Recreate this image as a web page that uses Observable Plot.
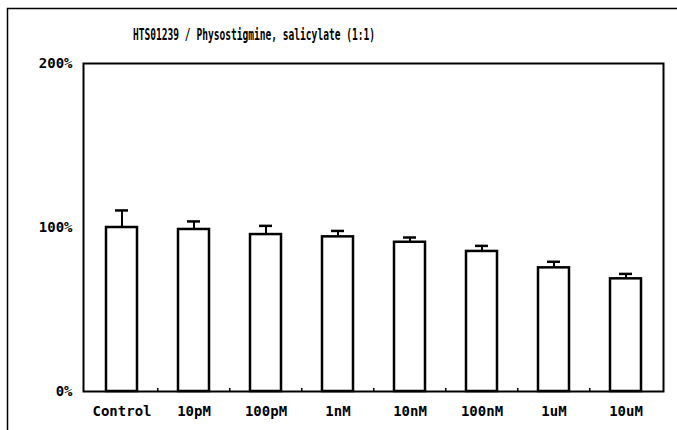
<!DOCTYPE html>
<html>
<head>
<meta charset="utf-8">
<script src="https://cdn.jsdelivr.net/npm/d3@7"></script>
<script src="https://cdn.jsdelivr.net/npm/@observablehq/plot@0.6"></script>
<style>
  html, body { margin: 0; padding: 0; background: #fff; }
  #chart svg { display: block; }
</style>
</head>
<body>
<div id="chart"></div>
<script>
const titleText = "HTS01239 / Physostigmine, salicylate (1:1)";
const categories = ["Control", "10pM", "100pM", "1nM", "10nM", "100nM", "1uM", "10uM"];
const means = [100, 98.8, 95.7, 94.3, 91.0, 85.4, 75.4, 68.7];
const errors = [10.4, 4.9, 5.3, 3.6, 2.9, 3.4, 3.7, 3.0];
const yTicks = [0, 100, 200];

const data = categories.map((c, i) => ({cat: c, mean: means[i], top: means[i] + errors[i]}));

const fontFam = "'DejaVu Sans Mono', 'Liberation Mono', monospace";

const chart = Plot.plot({
  width: 677,
  height: 430,
  marginTop: 63,
  marginBottom: 39,
  marginLeft: 83,
  marginRight: 14,
  style: {fontFamily: fontFam, fontWeight: "bold", fontSize: "14px", color: "black", background: "white"},
  x: {domain: categories, paddingInner: 0.57, paddingOuter: 0.285, label: null, tickSize: 0, tickPadding: 15},
  y: {domain: [0, 200], ticks: yTicks, tickFormat: d => d + "%", label: null, tickSize: 0, tickPadding: 11},
  marks: [
    Plot.ruleX(categories.slice(1), {x: d => d, dx: -36.25, insetTop: 325, stroke: "black", strokeWidth: 1.5}),
    Plot.ruleX(data, {x: "cat", y1: "mean", y2: "top", stroke: "black", strokeWidth: 2}),
    Plot.tickY(data, {x: "cat", y: "top", stroke: "black", strokeWidth: 2.5, insetLeft: 9, insetRight: 9}),
    Plot.barY(data, {x: "cat", y: "mean", fill: "white", stroke: "black", strokeWidth: 2.5}),
    Plot.frame({stroke: "black", strokeWidth: 2})
  ]
});

document.getElementById("chart").appendChild(chart);

const svg = d3.select(chart);
svg.append("rect")
  .attr("x", 7.5).attr("y", 8.5)
  .attr("width", 720).attr("height", 500)
  .attr("fill", "none").attr("stroke", "black").attr("stroke-width", 1.5);
svg.append("text")
  .attr("x", 254).attr("y", 40)
  .attr("text-anchor", "middle")
  .attr("font-family", fontFam)
  .attr("font-weight", "bold")
  .attr("font-size", 16)
  .attr("textLength", 242)
  .attr("lengthAdjust", "spacingAndGlyphs")
  .attr("fill", "black")
  .text(titleText);
</script>
</body>
</html>
